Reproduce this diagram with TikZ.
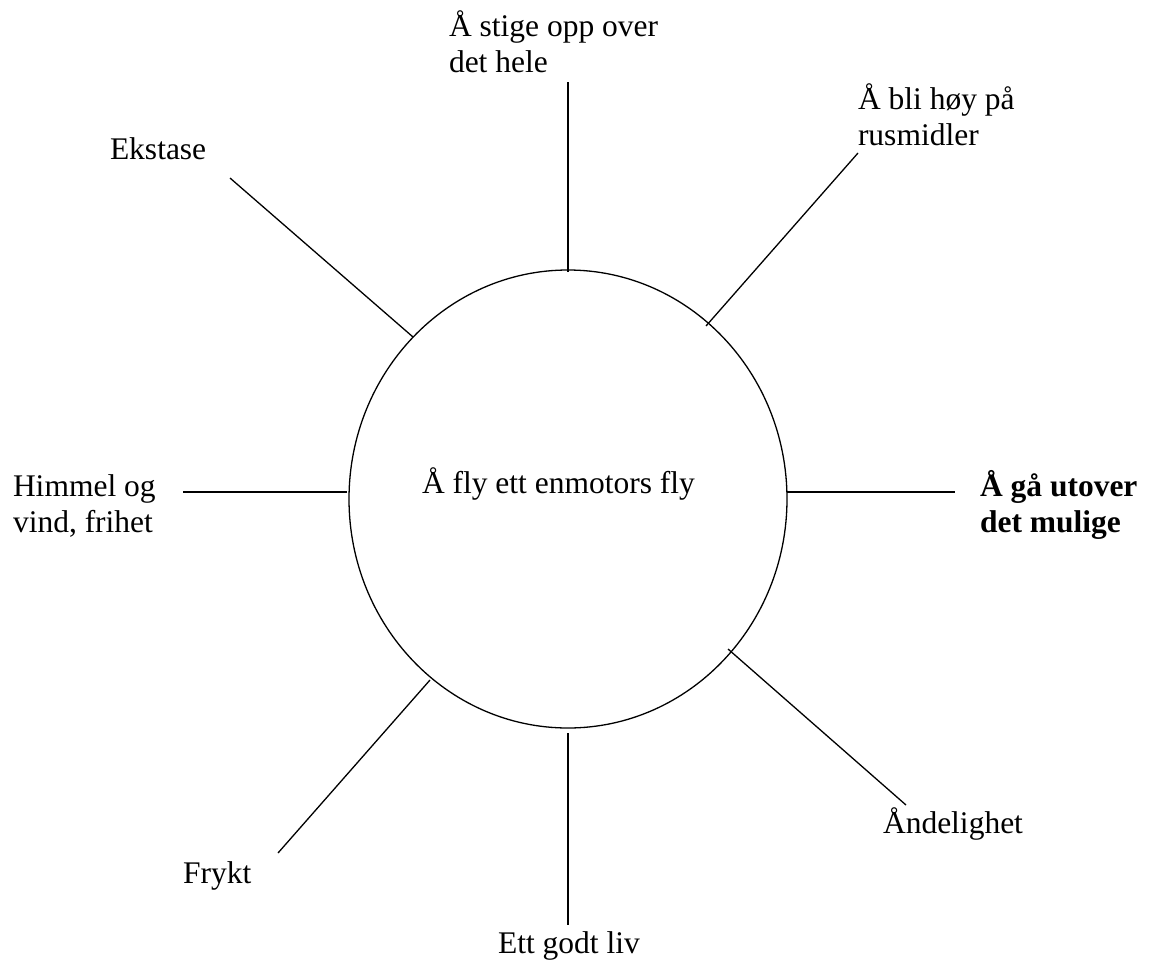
\documentclass[tikz,border=0pt]{standalone}
\usepackage{fontspec}
\setmainfont{Liberation Serif}
\usetikzlibrary{shapes.geometric}
\tikzset{
  lbl/.style={anchor=base west, inner sep=0pt, outer sep=0pt, font=\fontsize{31.5}{36.2}\selectfont},
  spoke/.style={line width=1.3pt, line cap=butt},
  hub/.style={draw, ellipse, line width=1.3pt, minimum width=438pt, minimum height=458pt, inner sep=0pt}
}
\newcommand{\lines}[1]{\begin{tabular}[t]{@{}l@{}}#1\end{tabular}}
\begin{document}
\begin{tikzpicture}[x=1pt,y=-1pt]
\useasboundingbox (0,0) rectangle (1149,967);
\node[hub] (c) at (568,499) {};
\node[lbl] (ctext) at (422,493) {Å fly ett enmotors fly};
% labels
\node[lbl] (tN) at (449,36) {\lines{Å stige opp over\\det hele}};
\node[lbl] (tNE) at (858,109) {\lines{Å bli høy på\\rusmidler}};
\node[lbl] (tNW) at (110,159) {Ekstase};
\node[lbl] (tW) at (13,496) {\lines{Himmel og\\vind, frihet}};
\node[lbl] (tE) at (980,496) {\lines{\bfseries Å gå utover\\\bfseries det mulige}};
\node[lbl] (tSE) at (883,833) {Åndelighet};
\node[lbl] (tSW) at (183,883) {Frykt};
\node[lbl] (tS) at (498,953) {Ett godt liv};
% spoke ends
\coordinate (nI) at (568,272);  \coordinate (nO) at (568,82);
\coordinate (neI) at (706,326); \coordinate (neO) at (858,153);
\coordinate (nwI) at (413,337); \coordinate (nwO) at (230,178);
\coordinate (wI) at (347,492);  \coordinate (wO) at (183,492);
\coordinate (eI) at (787,492);  \coordinate (eO) at (955,492);
\coordinate (seI) at (728,649); \coordinate (seO) at (906,805);
\coordinate (swI) at (430,680); \coordinate (swO) at (278,853);
\coordinate (sI) at (568,733);  \coordinate (sO) at (568,925);
\draw[spoke] (nI) -- (nO);
\draw[spoke] (neI) -- (neO);
\draw[spoke] (nwI) -- (nwO);
\draw[spoke] (wI) -- (wO);
\draw[spoke] (eI) -- (eO);
\draw[spoke] (seI) -- (seO);
\draw[spoke] (swI) -- (swO);
\draw[spoke] (sI) -- (sO);
\end{tikzpicture}
\end{document}
